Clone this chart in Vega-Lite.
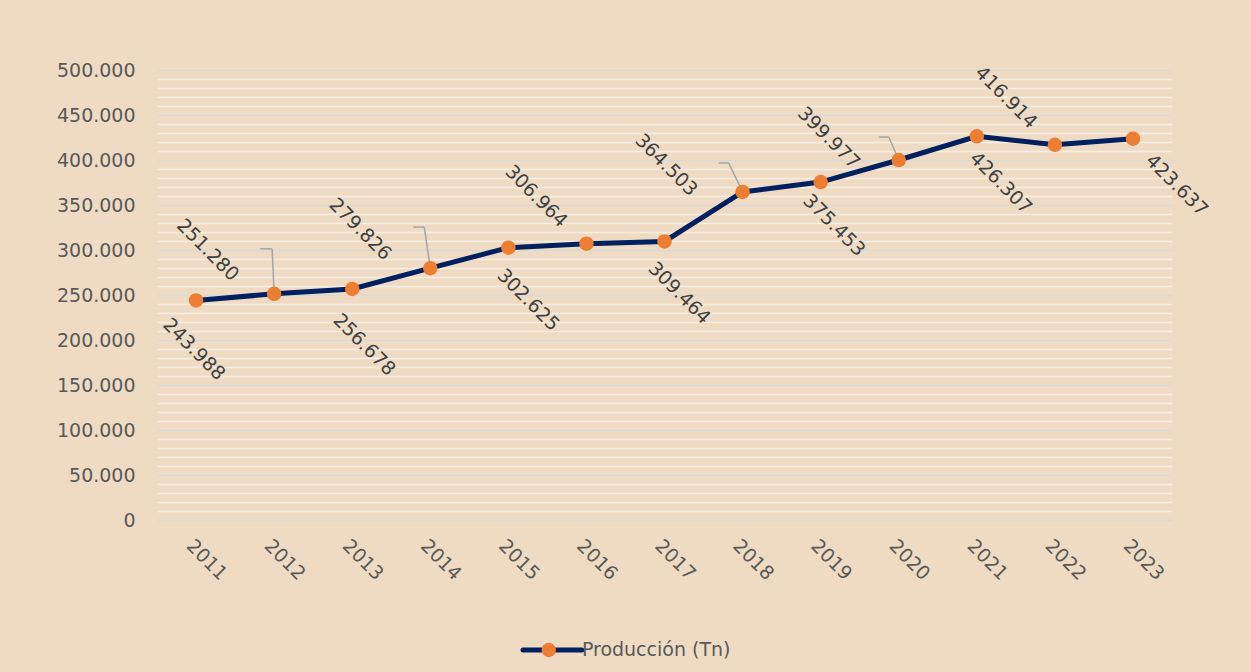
{
  "$schema": "https://vega.github.io/schema/vega-lite/v6.json",
  "background": "#EFDBC3",
  "padding": {"left": 56, "top": 61, "right": 80, "bottom": 40},
  "config": {
    "view": {"stroke": null},
    "font": "DejaVu Sans",
    "locale": {"number": {"decimal": ",", "thousands": ".", "grouping": [3], "currency": ["", " €"]}},
    "text": {"angle": 45, "align": "center", "baseline": "middle", "fontSize": 19, "color": "#404040"},
    "rule": {"color": "#A6A6A6", "strokeWidth": 1.5}
  },
  "datasets": {
    "prod": [
      {"year": "2011", "value": 243988},
      {"year": "2012", "value": 251280},
      {"year": "2013", "value": 256678},
      {"year": "2014", "value": 279826},
      {"year": "2015", "value": 302625},
      {"year": "2016", "value": 306964},
      {"year": "2017", "value": 309464},
      {"year": "2018", "value": 364503},
      {"year": "2019", "value": 375453},
      {"year": "2020", "value": 399977},
      {"year": "2021", "value": 426307},
      {"year": "2022", "value": 416914},
      {"year": "2023", "value": 423637}
    ],
    "legend": [{"serie": "Producción (Tn)"}]
  },
  "center": true,
  "spacing": 56,
  "vconcat": [
    {
      "width": 1015,
      "height": 450,
      "data": {"name": "prod"},
      "encoding": {
        "x": {
          "field": "year", "type": "ordinal",
          "axis": {"labelAngle": 45, "labelFontSize": 19, "labelColor": "#595959", "domain": false, "ticks": false, "grid": false, "title": null, "labelPadding": 16}
        },
        "y": {
          "field": "value", "type": "quantitative",
          "scale": {"domain": [0, 500000], "nice": false},
          "axis": {
            "tickCount": 50, "labelOverlap": false,
            "labelExpr": "datum.value % 50000 === 0 ? datum.label : ''",
            "gridColor": {"condition": {"test": "datum.value % 50000 === 0", "value": "#D9D9D9"}, "value": "#F4EEE6"},
            "gridWidth": 1.5, "domain": false, "ticks": false,
            "labelFontSize": 19, "labelColor": "#595959", "labelPadding": 22, "title": null
          }
        }
      },
      "layer": [
        {"transform": [{"filter": "datum.year === '2012'"}], "mark": {"type": "rule", "x2Offset": -2, "y2Offset": -45}, "encoding": {"x2": {"field": "year"}, "y2": {"field": "value"}}},
        {"transform": [{"filter": "datum.year === '2012'"}], "mark": {"type": "rule", "xOffset": -2, "yOffset": -45, "x2Offset": -14, "y2Offset": -45}, "encoding": {"x2": {"field": "year"}, "y2": {"field": "value"}}},
        {"transform": [{"filter": "datum.year === '2014'"}], "mark": {"type": "rule", "x2Offset": -6, "y2Offset": -41}, "encoding": {"x2": {"field": "year"}, "y2": {"field": "value"}}},
        {"transform": [{"filter": "datum.year === '2014'"}], "mark": {"type": "rule", "xOffset": -6, "yOffset": -41, "x2Offset": -17, "y2Offset": -41}, "encoding": {"x2": {"field": "year"}, "y2": {"field": "value"}}},
        {"transform": [{"filter": "datum.year === '2018'"}], "mark": {"type": "rule", "x2Offset": -14, "y2Offset": -29}, "encoding": {"x2": {"field": "year"}, "y2": {"field": "value"}}},
        {"transform": [{"filter": "datum.year === '2018'"}], "mark": {"type": "rule", "xOffset": -14, "yOffset": -29, "x2Offset": -24, "y2Offset": -29}, "encoding": {"x2": {"field": "year"}, "y2": {"field": "value"}}},
        {"transform": [{"filter": "datum.year === '2020'"}], "mark": {"type": "rule", "x2Offset": -10, "y2Offset": -23}, "encoding": {"x2": {"field": "year"}, "y2": {"field": "value"}}},
        {"transform": [{"filter": "datum.year === '2020'"}], "mark": {"type": "rule", "xOffset": -10, "yOffset": -23, "x2Offset": -20, "y2Offset": -23}, "encoding": {"x2": {"field": "year"}, "y2": {"field": "value"}}},
        {"mark": {"type": "line", "color": "#002060", "strokeWidth": 5}},
        {"mark": {"type": "point", "filled": true, "color": "#ED7D31", "size": 210, "opacity": 1}},
        {"transform": [{"filter": "datum.year === '2011'"}], "mark": {"type": "text", "dx": 33, "dy": 36}, "encoding": {"text": {"field": "value", "type": "quantitative", "format": ","}}},
        {"transform": [{"filter": "datum.year === '2012'"}], "mark": {"type": "text", "dx": -78, "dy": 16}, "encoding": {"text": {"field": "value", "type": "quantitative", "format": ","}}},
        {"transform": [{"filter": "datum.year === '2013'"}], "mark": {"type": "text", "dx": 48, "dy": 31}, "encoding": {"text": {"field": "value", "type": "quantitative", "format": ","}}},
        {"transform": [{"filter": "datum.year === '2014'"}], "mark": {"type": "text", "dx": -77, "dy": 22}, "encoding": {"text": {"field": "value", "type": "quantitative", "format": ","}}},
        {"transform": [{"filter": "datum.year === '2015'"}], "mark": {"type": "text", "dx": 51, "dy": 23}, "encoding": {"text": {"field": "value", "type": "quantitative", "format": ","}}},
        {"transform": [{"filter": "datum.year === '2016'"}], "mark": {"type": "text", "dx": -69, "dy": 2}, "encoding": {"text": {"field": "value", "type": "quantitative", "format": ","}}},
        {"transform": [{"filter": "datum.year === '2017'"}], "mark": {"type": "text", "dx": 47, "dy": 26}, "encoding": {"text": {"field": "value", "type": "quantitative", "format": ","}}},
        {"transform": [{"filter": "datum.year === '2018'"}], "mark": {"type": "text", "dx": -73, "dy": 35}, "encoding": {"text": {"field": "value", "type": "quantitative", "format": ","}}},
        {"transform": [{"filter": "datum.year === '2019'"}], "mark": {"type": "text", "dx": 40, "dy": 21}, "encoding": {"text": {"field": "value", "type": "quantitative", "format": ","}}},
        {"transform": [{"filter": "datum.year === '2020'"}], "mark": {"type": "text", "dx": -65, "dy": 34}, "encoding": {"text": {"field": "value", "type": "quantitative", "format": ","}}},
        {"transform": [{"filter": "datum.year === '2021'"}], "mark": {"type": "text", "dx": 50, "dy": 16}, "encoding": {"text": {"field": "value", "type": "quantitative", "format": ","}}},
        {"transform": [{"filter": "datum.year === '2022'"}], "mark": {"type": "text", "dx": -68, "dy": 1}, "encoding": {"text": {"field": "value", "type": "quantitative", "format": ","}}},
        {"transform": [{"filter": "datum.year === '2023'"}], "mark": {"type": "text", "dx": 64, "dy": 2}, "encoding": {"text": {"field": "value", "type": "quantitative", "format": ","}}}
      ]
    },
    {
      "width": 322,
      "height": 20,
      "data": {"name": "legend"},
      "layer": [
        {
          "mark": {"type": "rule", "color": "#002060", "strokeWidth": 5, "strokeCap": "round"},
          "encoding": {
            "x": {"datum": 0, "type": "quantitative", "scale": {"domain": [0, 322]}, "axis": null},
            "x2": {"datum": 64},
            "y": {"datum": 0, "type": "quantitative", "scale": {"domain": [-1, 1]}, "axis": null}
          }
        },
        {
          "mark": {"type": "point", "filled": true, "color": "#ED7D31", "size": 210, "opacity": 1},
          "encoding": {
            "x": {"datum": 28, "type": "quantitative"},
            "y": {"datum": 0, "type": "quantitative"}
          }
        },
        {
          "mark": {"type": "text", "angle": 0, "align": "left", "baseline": "middle", "fontSize": 19, "color": "#595959"},
          "encoding": {
            "x": {"datum": 64, "type": "quantitative"},
            "y": {"datum": 0, "type": "quantitative"},
            "text": {"field": "serie"}
          }
        }
      ]
    }
  ]
}
